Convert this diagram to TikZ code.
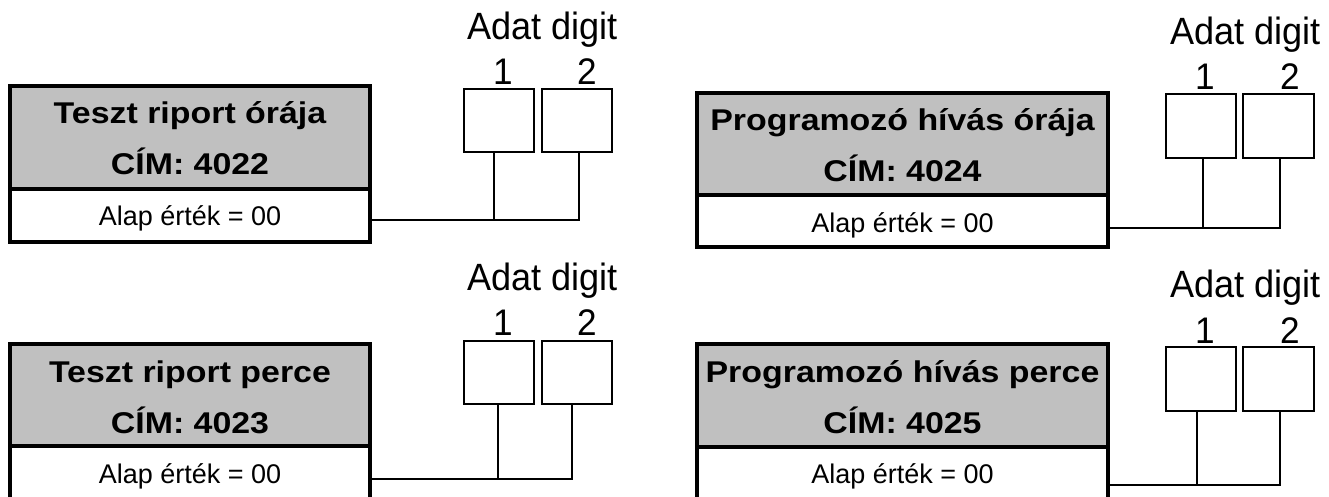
\documentclass[tikz,border=0pt]{standalone}
\usepackage{fontspec}
\usepackage{graphicx}
\setmainfont{Liberation Sans}
\definecolor{boxgray}{HTML}{C0C0C0}
\newcommand{\widetitle}[1]{\scalebox{1.13}[1]{#1}}
\newcommand{\narrowhead}[1]{\scalebox{0.95}[1]{#1}}
\begin{document}
\begin{tikzpicture}[x=1pt,y=-1pt,
  graybox/.style={draw, line width=3.5pt, fill=boxgray, inner sep=0, outer sep=0, anchor=north west},
  whitebox/.style={draw, line width=3.5pt, fill=white, inner sep=0, outer sep=0, anchor=north west},
  digitbox/.style={draw, line width=2pt, fill=white, inner sep=0, outer sep=0, anchor=north west},
  titletext/.style={inner sep=0, anchor=base, font=\bfseries\fontsize{30}{30}\selectfont},
  valtext/.style={inner sep=0, anchor=base, font=\fontsize{27}{27}\selectfont},
  headtext/.style={inner sep=0, anchor=base, font=\fontsize{38}{38}\selectfont},
  numtext/.style={inner sep=0, anchor=base, font=\fontsize{37}{37}\selectfont},
  conn/.style={line width=2pt}]
\useasboundingbox (0,0) rectangle (1329,497);
\clip (0,0) rectangle (1329,497);
\fill[white] (0,0) rectangle (1329,497);

% ---------- Block A (top left) ----------
\node[graybox, minimum width=360, minimum height=103] (gA) at (10,86) {};
\node[whitebox, minimum width=360, minimum height=53] (wA) at (10,189) {};
\node[titletext] (tA) at (190,124) {\widetitle{Teszt riport órája}};
\node[titletext] (cA) at (190,175) {\widetitle{CÍM: 4022}};
\node[valtext] (vA) at (190,225) {Alap érték = 00};
\node[digitbox, minimum width=70, minimum height=63] (dA1) at (464,89) {};
\node[digitbox, minimum width=70, minimum height=63] (dA2) at (542,89) {};
\node[headtext] (hA) at (542.5,40) {\narrowhead{Adat digit}};
\node[numtext] (nA1) at (503,85) {\narrowhead{1}};
\node[numtext] (nA2) at (587,85) {\narrowhead{2}};
\coordinate (jA1) at (494,220);
\coordinate (jA2) at (579,220);
\draw[conn] (wA.east |- jA1) -- (jA2) -- (jA2 |- dA2.south);
\draw[conn] (jA1) -- (jA1 |- dA1.south);

% ---------- Block B (top right) ----------
\node[graybox, minimum width=411, minimum height=102] (gB) at (697,93) {};
\node[whitebox, minimum width=411, minimum height=52] (wB) at (697,195) {};
\node[titletext] (tB) at (902.5,131) {\widetitle{Programozó hívás órája}};
\node[titletext] (cB) at (902.5,182) {\widetitle{CÍM: 4024}};
\node[valtext] (vB) at (902.5,232) {Alap érték = 00};
\node[digitbox, minimum width=70, minimum height=64] (dB1) at (1166,94) {};
\node[digitbox, minimum width=71, minimum height=64] (dB2) at (1243,94) {};
\node[headtext] (hB) at (1245.5,45) {\narrowhead{Adat digit}};
\node[numtext] (nB1) at (1205,90) {\narrowhead{1}};
\node[numtext] (nB2) at (1290,90) {\narrowhead{2}};
\coordinate (jB1) at (1203,228);
\coordinate (jB2) at (1280,228);
\draw[conn] (wB.east |- jB1) -- (jB2) -- (jB2 |- dB2.south);
\draw[conn] (jB1) -- (jB1 |- dB1.south);

% ---------- Block C (bottom left) ----------
\node[graybox, minimum width=360, minimum height=102] (gC) at (10,344) {};
\node[whitebox, minimum width=360, minimum height=70] (wC) at (10,446) {};
\node[titletext] (tC) at (190,382) {\widetitle{Teszt riport perce}};
\node[titletext] (cC) at (190,433) {\widetitle{CÍM: 4023}};
\node[valtext] (vC) at (190,483) {Alap érték = 00};
\node[digitbox, minimum width=70, minimum height=63] (dC1) at (464,341) {};
\node[digitbox, minimum width=70, minimum height=63] (dC2) at (542,341) {};
\node[headtext] (hC) at (542.5,290) {\narrowhead{Adat digit}};
\node[numtext] (nC1) at (503,335) {\narrowhead{1}};
\node[numtext] (nC2) at (587,335) {\narrowhead{2}};
\coordinate (jC1) at (498,479);
\coordinate (jC2) at (572,479);
\draw[conn] (wC.east |- jC1) -- (jC2) -- (jC2 |- dC2.south);
\draw[conn] (jC1) -- (jC1 |- dC1.south);

% ---------- Block D (bottom right) ----------
\node[graybox, minimum width=411, minimum height=103] (gD) at (697,344) {};
\node[whitebox, minimum width=411, minimum height=70] (wD) at (697,447) {};
\node[titletext] (tD) at (902.5,382) {\widetitle{Programozó hívás perce}};
\node[titletext] (cD) at (902.5,433) {\widetitle{CÍM: 4025}};
\node[valtext] (vD) at (902.5,483) {Alap érték = 00};
\node[digitbox, minimum width=70, minimum height=64] (dD1) at (1166,347) {};
\node[digitbox, minimum width=71, minimum height=64] (dD2) at (1243,347) {};
\node[headtext] (hD) at (1245.5,297) {\narrowhead{Adat digit}};
\node[numtext] (nD1) at (1205,343) {\narrowhead{1}};
\node[numtext] (nD2) at (1290,343) {\narrowhead{2}};
\coordinate (jD1) at (1197,485);
\coordinate (jD2) at (1280,485);
\draw[conn] (wD.east |- jD1) -- (jD2) -- (jD2 |- dD2.south);
\draw[conn] (jD1) -- (jD1 |- dD1.south);
\end{tikzpicture}
\end{document}
